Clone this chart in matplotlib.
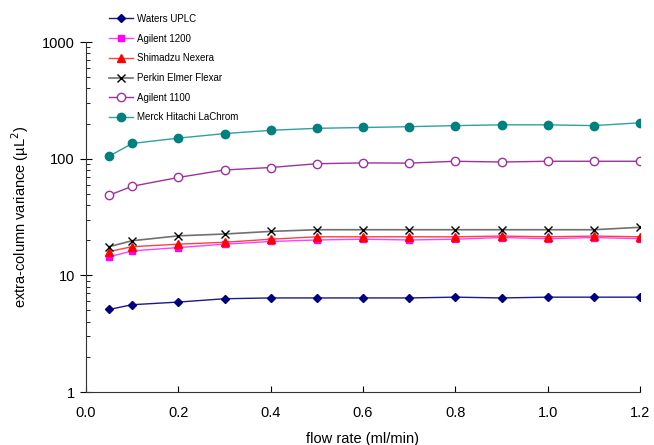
import matplotlib
matplotlib.use('Agg')
import matplotlib.pyplot as plt
from matplotlib.ticker import LogLocator, FixedLocator

plt.rcParams['font.family'] = ['Liberation Sans', 'DejaVu Sans']

flow = [0.05, 0.1, 0.2, 0.3, 0.4, 0.5, 0.6, 0.7, 0.8, 0.9, 1.0, 1.1, 1.2]

waters = [5.1, 5.6, 5.9, 6.3, 6.4, 6.4, 6.4, 6.4, 6.5, 6.4, 6.5, 6.5, 6.5]
agilent1200 = [14.4, 16.2, 17.3, 18.5, 19.5, 20.1, 20.4, 20.1, 20.4, 21.1, 20.6, 21.1, 20.6]
shimadzu = [16.0, 17.6, 18.5, 19.2, 20.4, 21.4, 21.4, 21.4, 21.4, 21.7, 21.4, 21.7, 21.4]
perkin = [17.6, 19.8, 21.8, 22.6, 23.8, 24.6, 24.6, 24.6, 24.6, 24.6, 24.6, 24.6, 25.8]
agilent1100 = [48.6, 58, 69, 80, 84, 90.5, 92, 91.6, 95, 93.6, 95, 95, 95]
merck = [105, 135, 150, 164, 175, 182, 185, 188, 192, 195, 195, 192, 203]

fig = plt.figure(figsize=(6.54, 4.45), dpi=100)
ax = fig.add_axes([86/654, 1 - 392/445, (640 - 86)/654, (392 - 42)/445])

ax.plot(flow, waters, color='#1a1a8c', marker='D', ms=4.5, mfc='#000080', mec='#000080', lw=1,
        label='Waters UPLC')
ax.plot(flow, agilent1200, color='#ff40ff', marker='s', ms=5, mfc='#ff00ff', mec='#ff00ff', lw=1,
        label='Agilent 1200')
ax.plot(flow, shimadzu, color='#ff4040', marker='^', ms=5.5, mfc='#ff0000', mec='#ff0000', lw=1,
        label='Shimadzu Nexera')
ax.plot(flow, perkin, color='#707070', marker='x', ms=5.5, mec='#000000', mew=1, lw=1.2,
        label='Perkin Elmer Flexar')
ax.plot(flow, agilent1100, color='#a030a0', marker='o', ms=6, mfc='white', mec='#a030a0', lw=1,
        label='Agilent 1100')
ax.plot(flow, merck, color='#30a0a0', marker='o', ms=6, mfc='#008080', mec='#008080', lw=1,
        label='Merck Hitachi LaChrom')

ax.set_yscale('log')
ax.set_ylim(1, 1000)
ax.set_xlim(0, 1.2)
ax.xaxis.set_major_locator(FixedLocator([0, 0.2, 0.4, 0.6, 0.8, 1.0, 1.2]))
ax.set_xticklabels(['0.0', '0.2', '0.4', '0.6', '0.8', '1.0', '1.2'])
ax.yaxis.set_major_locator(FixedLocator([1, 10, 100, 1000]))
ax.set_yticklabels(['1', '10', '100', '1000'])
ax.yaxis.set_minor_locator(LogLocator(base=10, subs=range(2, 10)))

for side in ['top', 'right']:
    ax.spines[side].set_visible(False)
ax.spines['left'].set_color('#333333')
ax.spines['bottom'].set_color('#333333')

ax.tick_params(axis='y', which='major', direction='inout', length=8, width=0.8, labelsize=10.5, pad=4)
ax.tick_params(axis='y', which='minor', direction='in', length=3, width=0.6)
ax.tick_params(axis='x', which='major', direction='in', length=4, width=0.8, labelsize=10.5, pad=10)

ax.set_xlabel('flow rate (ml/min)', fontsize=10.5, labelpad=9)
ax.set_ylabel('extra-column variance (µL$^2$)', fontsize=10.5, labelpad=8)

ax.legend(loc='upper left', bbox_to_anchor=(105/654, 1 - 10/445), bbox_transform=fig.transFigure,
          frameon=False, fontsize=7, handlelength=2.5, labelspacing=1.0, borderaxespad=0,
          handletextpad=0.4)

fig.savefig('out.png', dpi=100)
